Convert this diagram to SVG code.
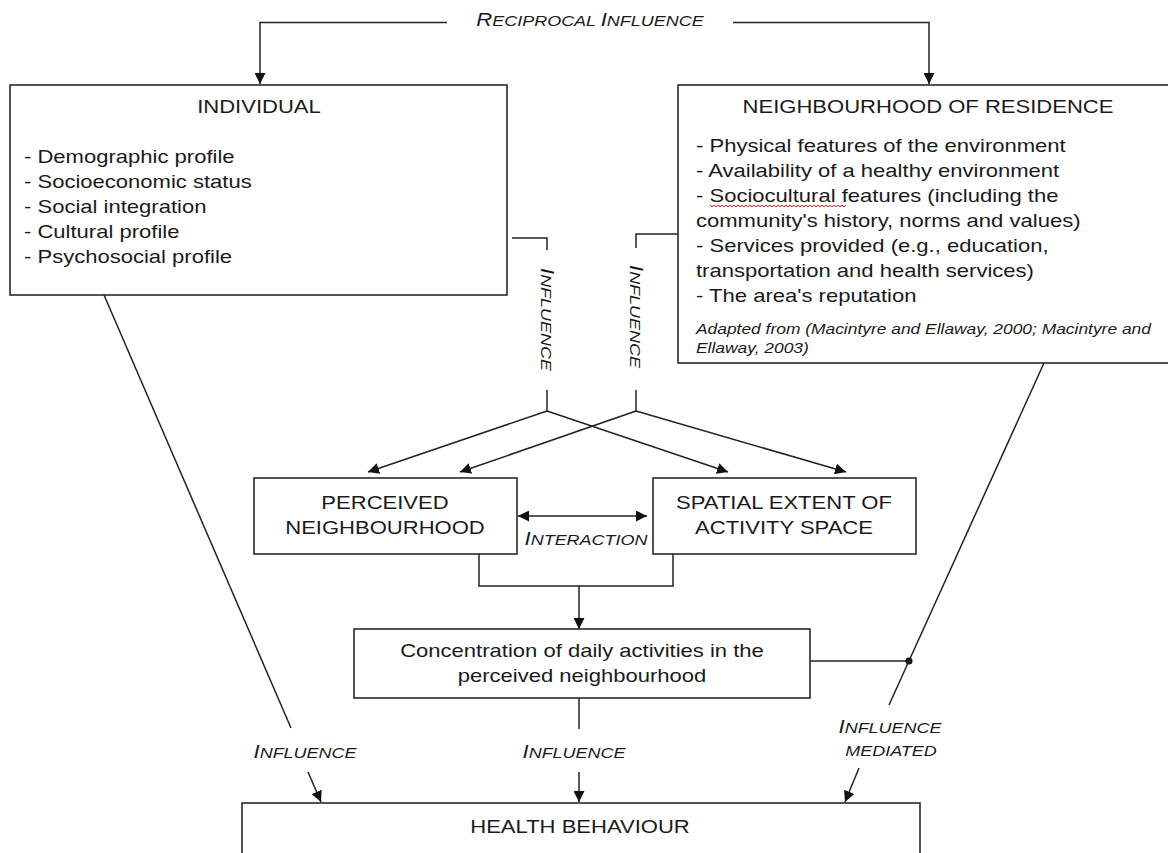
<svg xmlns="http://www.w3.org/2000/svg" width="1168" height="853" viewBox="0 0 1168 853">
<defs>
<style>
.box{fill:#fff;stroke:#2a2a2a;stroke-width:1.6}
.ln{fill:none;stroke:#222;stroke-width:1.5}
.t{font-family:"Liberation Sans",Arial,sans-serif;font-size:19px;fill:#1a1a1a}
.c{text-anchor:middle}
.it{font-family:"Liberation Sans",Arial,sans-serif;font-size:15px;font-style:italic;fill:#1a1a1a}
.lbl{font-family:"Liberation Sans",Arial,sans-serif;font-size:15.5px;font-style:italic;fill:#1a1a1a}
.big{font-size:19px}
</style>
<marker id="ah" viewBox="0 0 11 11" refX="11" refY="5.5" markerWidth="11" markerHeight="11" markerUnits="userSpaceOnUse" orient="auto-start-reverse">
<path d="M0,0 L11,5.5 L0,11 z" fill="#111"/>
</marker>
</defs>
<rect width="1168" height="853" fill="#fff"/>

<g id="connectors">
<path class="ln" d="M447,22.5 H260 V84" marker-end="url(#ah)"/>
<path class="ln" d="M733,22.5 H929 V84" marker-end="url(#ah)"/>
<path class="ln" d="M512,238 H547 V250"/>
<path class="ln" d="M547,390 V411"/>
<path class="ln" d="M678,234 H636 V248"/>
<path class="ln" d="M636,390 V411"/>
<path class="ln" d="M547,411 L368,472" marker-end="url(#ah)"/>
<path class="ln" d="M547,411 L728,472" marker-end="url(#ah)"/>
<path class="ln" d="M636,411 L460,472" marker-end="url(#ah)"/>
<path class="ln" d="M636,411 L846,472" marker-end="url(#ah)"/>
<path class="ln" d="M518,516 H647" marker-start="url(#ah)" marker-end="url(#ah)"/>
<path class="ln" d="M479,554 V586 H673 V554"/>
<path class="ln" d="M579,586 V629" marker-end="url(#ah)"/>
<path class="ln" d="M810,661 H909"/>
<circle cx="909" cy="661" r="3.5" fill="#111"/>
<path class="ln" d="M1044,363 L889,705"/>
<path class="ln" d="M859,768 L845,802" marker-end="url(#ah)"/>
<path class="ln" d="M104,295 L291,728"/>
<path class="ln" d="M308,772 L321,802" marker-end="url(#ah)"/>
<path class="ln" d="M579,698 V729"/>
<path class="ln" d="M579,772 V802" marker-end="url(#ah)"/>
<text class="lbl c" transform="translate(590,26) scale(1.16,1)"><tspan class="big">R</tspan>ECIPROCAL <tspan class="big">I</tspan>NFLUENCE</text>
<text class="lbl" transform="translate(541,268) rotate(90) scale(1.16,1)"><tspan class="big">I</tspan>NFLUENCE</text>
<text class="lbl" transform="translate(630,265) rotate(90) scale(1.16,1)"><tspan class="big">I</tspan>NFLUENCE</text>
<text class="lbl c" transform="translate(586,545) scale(1.16,1)"><tspan class="big">I</tspan>NTERACTION</text>
<text class="lbl c" transform="translate(305,758) scale(1.16,1)"><tspan class="big">I</tspan>NFLUENCE</text>
<text class="lbl c" transform="translate(574,758) scale(1.16,1)"><tspan class="big">I</tspan>NFLUENCE</text>
<text class="lbl c" transform="translate(890,733) scale(1.16,1)"><tspan class="big">I</tspan>NFLUENCE</text>
<text class="lbl c" transform="translate(891,756) scale(1.16,1)">MEDIATED</text>
</g>

<g id="individual">
<rect class="box" x="10" y="85" width="497" height="210"/>
<text class="t c" transform="translate(259,113) scale(1.16,1)">INDIVIDUAL</text>
<text class="t" transform="translate(24,163) scale(1.16,1)">- Demographic profile</text>
<text class="t" transform="translate(24,188) scale(1.16,1)">- Socioeconomic status</text>
<text class="t" transform="translate(24,213) scale(1.16,1)">- Social integration</text>
<text class="t" transform="translate(24,238) scale(1.16,1)">- Cultural profile</text>
<text class="t" transform="translate(24,263) scale(1.16,1)">- Psychosocial profile</text>
</g>

<g id="neighbourhood">
<rect class="box" x="678" y="85" width="520" height="278"/>
<text class="t c" transform="translate(928,113) scale(1.16,1)">NEIGHBOURHOOD OF RESIDENCE</text>
<text class="t" transform="translate(696,152) scale(1.16,1)">- Physical features of the environment</text>
<text class="t" transform="translate(696,177) scale(1.16,1)">- Availability of a healthy environment</text>
<text class="t" transform="translate(696,202) scale(1.16,1)">- Sociocultural features (including the</text>
<text class="t" transform="translate(696,227) scale(1.16,1)">community's history, norms and values)</text>
<text class="t" transform="translate(696,252) scale(1.16,1)">- Services provided (e.g., education,</text>
<text class="t" transform="translate(696,277) scale(1.16,1)">transportation and health services)</text>
<text class="t" transform="translate(696,302) scale(1.16,1)">- The area's reputation</text>
<text class="it" transform="translate(696,334) scale(1.16,1)">Adapted from (Macintyre and Ellaway, 2000; Macintyre and</text>
<text class="it" transform="translate(696,353) scale(1.16,1)">Ellaway, 2003)</text>
<path d="M710,205 l2,2 l2,-2 l2,2 l2,-2 l2,2 l2,-2 l2,2 l2,-2 l2,2 l2,-2 l2,2 l2,-2 l2,2 l2,-2 l2,2 l2,-2 l2,2 l2,-2 l2,2 l2,-2 l2,2 l2,-2 l2,2 l2,-2 l2,2 l2,-2 l2,2 l2,-2 l2,2 l2,-2 l2,2 l2,-2 l2,2 l2,-2 l2,2 l2,-2 l2,2 l2,-2 l2,2 l2,-2 l2,2 l2,-2 l2,2 l2,-2 l2,2 l2,-2 l2,2 l2,-2 l2,2 l2,-2 l2,2 l2,-2 l2,2 l2,-2 l2,2 l2,-2 l2,2 l2,-2 l2,2 l2,-2 l2,2 l2,-2 l2,2 l2,-2 l2,2 l2,-2 l2,2 l2,-2" fill="none" stroke="#d02020" stroke-width="1"/>
</g>

<g id="perceived">
<rect class="box" x="254" y="478" width="263" height="76"/>
<text class="t c" transform="translate(385,509) scale(1.16,1)">PERCEIVED</text>
<text class="t c" transform="translate(385,534) scale(1.16,1)">NEIGHBOURHOOD</text>
</g>

<g id="spatial">
<rect class="box" x="653" y="478" width="263" height="76"/>
<text class="t c" transform="translate(784,509) scale(1.16,1)">SPATIAL EXTENT OF</text>
<text class="t c" transform="translate(784,534) scale(1.16,1)">ACTIVITY SPACE</text>
</g>

<g id="concentration">
<rect class="box" x="354" y="629" width="456" height="69"/>
<text class="t c" transform="translate(582,657) scale(1.16,1)">Concentration of daily activities in the</text>
<text class="t c" transform="translate(582,682) scale(1.16,1)">perceived neighbourhood</text>
</g>

<g id="health">
<rect class="box" x="242" y="803" width="678" height="70"/>
<text class="t c" transform="translate(580,833) scale(1.16,1)">HEALTH BEHAVIOUR</text>
</g>
</svg>
